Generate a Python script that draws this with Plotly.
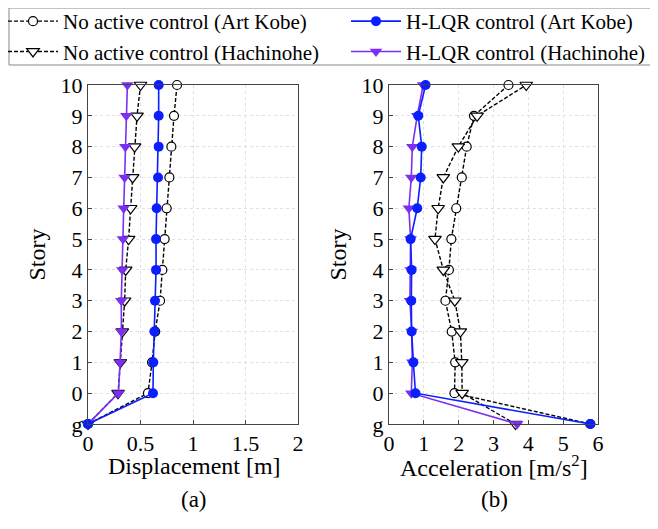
import plotly.graph_objects as go

stories = [-1, 0, 1, 2, 3, 4, 5, 6, 7, 8, 9, 10]
story_labels = ["g", "0", "1", "2", "3", "4", "5", "6", "7", "8", "9", "10"]

# Displacement [m] (a)
disp_nc_kobe = [0, 0.571, 0.61, 0.64, 0.686, 0.708, 0.73, 0.749, 0.775, 0.794, 0.819, 0.848]
disp_nc_hach = [0, 0.286, 0.308, 0.327, 0.349, 0.359, 0.387, 0.406, 0.425, 0.444, 0.467, 0.50]
disp_lqr_kobe = [0, 0.619, 0.622, 0.632, 0.638, 0.648, 0.648, 0.654, 0.667, 0.673, 0.673, 0.673]
disp_lqr_hach = [0, 0.29, 0.305, 0.318, 0.317, 0.327, 0.333, 0.34, 0.349, 0.356, 0.365, 0.375]

# Acceleration [m/s^2] (b)
acc_nc_kobe = [5.78, 1.88, 1.90, 1.80, 1.62, 1.72, 1.79, 1.93, 2.09, 2.23, 2.44, 3.43]
acc_nc_hach = [3.63, 2.10, 2.09, 2.05, 1.89, 1.56, 1.32, 1.41, 1.56, 1.99, 2.53, 3.94]
acc_lqr_kobe = [5.78, 0.76, 0.70, 0.65, 0.64, 0.65, 0.62, 0.81, 0.91, 0.94, 0.84, 1.05]
acc_lqr_hach = [3.68, 0.64, 0.67, 0.65, 0.60, 0.62, 0.62, 0.57, 0.64, 0.67, 0.81, 0.98]

BLUE = "#0a1eff"
PURPLE = "#7b2ff2"
FONT = "Liberation Serif, Times New Roman, DejaVu Serif, serif"

fig = go.Figure()

def add(x, name, kind, xa, ya, show, legend, rank):
    if kind == "nc_kobe":
        line = dict(color="black", width=1.4, dash="4px,2px")
        marker = dict(symbol="circle", size=9, color="white", line=dict(color="black", width=1.2))
    elif kind == "nc_hach":
        line = dict(color="black", width=1.4, dash="4px,2px")
        marker = dict(symbol="triangle-down", size=11, color="white", line=dict(color="black", width=1.2))
    elif kind == "lqr_kobe":
        line = dict(color=BLUE, width=1.6)
        marker = dict(symbol="circle", size=10, color=BLUE, line=dict(width=0))
    else:
        line = dict(color=PURPLE, width=1.6)
        marker = dict(symbol="triangle-down", size=11, color=PURPLE, line=dict(width=0))
    fig.add_trace(go.Scatter(x=x, y=stories, mode="lines+markers", name=name,
                             line=line, marker=marker, xaxis=xa, yaxis=ya,
                             showlegend=show, legend=legend, legendrank=rank,
                             cliponaxis=False))

names = {
    "nc_kobe": "No active control (Art Kobe)",
    "lqr_kobe": "H-LQR control (Art Kobe)",
    "nc_hach": "No active control (Hachinohe)",
    "lqr_hach": "H-LQR control (Hachinohe)",
}
legend_of = {"nc_kobe": "legend", "nc_hach": "legend", "lqr_kobe": "legend2", "lqr_hach": "legend2"}
ranks = {"nc_kobe": 1, "nc_hach": 2, "lqr_kobe": 1, "lqr_hach": 2}

for kind, data in [("nc_kobe", disp_nc_kobe), ("nc_hach", disp_nc_hach),
                   ("lqr_hach", disp_lqr_hach), ("lqr_kobe", disp_lqr_kobe)]:
    add(data, names[kind], kind, "x", "y", True, legend_of[kind], ranks[kind])
for kind, data in [("nc_kobe", acc_nc_kobe), ("nc_hach", acc_nc_hach),
                   ("lqr_hach", acc_lqr_hach), ("lqr_kobe", acc_lqr_kobe)]:
    add(data, names[kind], kind, "x2", "y2", False, legend_of[kind], ranks[kind])

# page body has an 8px margin: lay out in reference pixels shifted by OFF
OFF = 8
W, H = 658 - OFF, 529 - OFF
def px(x):
    return (x - OFF) / W
def py(y):
    return 1 - (y - OFF) / H

ydom = [py(424), py(85)]

axis_common = dict(showline=True, linecolor="#444", linewidth=1, mirror=True,
                   ticks="inside", ticklen=4, tickcolor="#444",
                   showgrid=True, gridcolor="#e0e0e0", griddash="dot", gridwidth=1,
                   zeroline=False, automargin=False,
                   tickfont=dict(family=FONT, size=22, color="black"))

leg_common = dict(orientation="v", yanchor="top", xanchor="left",
                  bgcolor="rgba(0,0,0,0)", borderwidth=0,
                  font=dict(family=FONT, size=21, color="black"),
                  tracegroupgap=0, itemwidth=50, traceorder="normal")

fig.update_layout(
    width=W, height=H,
    margin=dict(l=0, r=0, t=0, b=0, autoexpand=False),
    paper_bgcolor="white", plot_bgcolor="white",
    font=dict(family=FONT, color="black"),
    xaxis=dict(domain=[px(88), px(298)], range=[0, 2], tickvals=[0, 0.5, 1, 1.5, 2],
               ticktext=["0", "0.5", "1", "1.5", "2"], anchor="y", **axis_common),
    yaxis=dict(domain=ydom, range=[-1, 10], tickvals=stories, ticktext=story_labels,
               title=dict(text="Story", font=dict(family=FONT, size=24), standoff=8),
               anchor="x", **axis_common),
    xaxis2=dict(domain=[px(389), px(598)], range=[0, 6], tickvals=[0, 1, 2, 3, 4, 5, 6],
                anchor="y2", **axis_common),
    yaxis2=dict(domain=ydom, range=[-1, 10], tickvals=stories, ticktext=story_labels,
                title=dict(text="Story", font=dict(family=FONT, size=24), standoff=8),
                anchor="x2", **axis_common),
    legend=dict(x=px(3), y=py(1), **leg_common),
    legend2=dict(x=px(346), y=py(1), **leg_common),
    shapes=[dict(type="rect", xref="paper", yref="paper",
                 x0=px(9), x1=px(655), y0=py(65), y1=py(8),
                 line=dict(color="#888", width=1), fillcolor="rgba(0,0,0,0)")],
    annotations=[
        dict(text="Displacement [m]", x=px(194), y=py(466), xref="paper", yref="paper",
             xanchor="center", yanchor="middle", showarrow=False, font=dict(family=FONT, size=24)),
        dict(text="Acceleration [m/s<sup>2</sup>]", x=px(494), y=py(466), xref="paper", yref="paper",
             xanchor="center", yanchor="middle", showarrow=False, font=dict(family=FONT, size=24)),
        dict(text="(a)", x=px(194), y=py(499), xref="paper", yref="paper",
             xanchor="center", yanchor="middle", showarrow=False, font=dict(family=FONT, size=23)),
        dict(text="(b)", x=px(494), y=py(499), xref="paper", yref="paper",
             xanchor="center", yanchor="middle", showarrow=False, font=dict(family=FONT, size=23)),
    ],
)

fig.write_html("out.html")
